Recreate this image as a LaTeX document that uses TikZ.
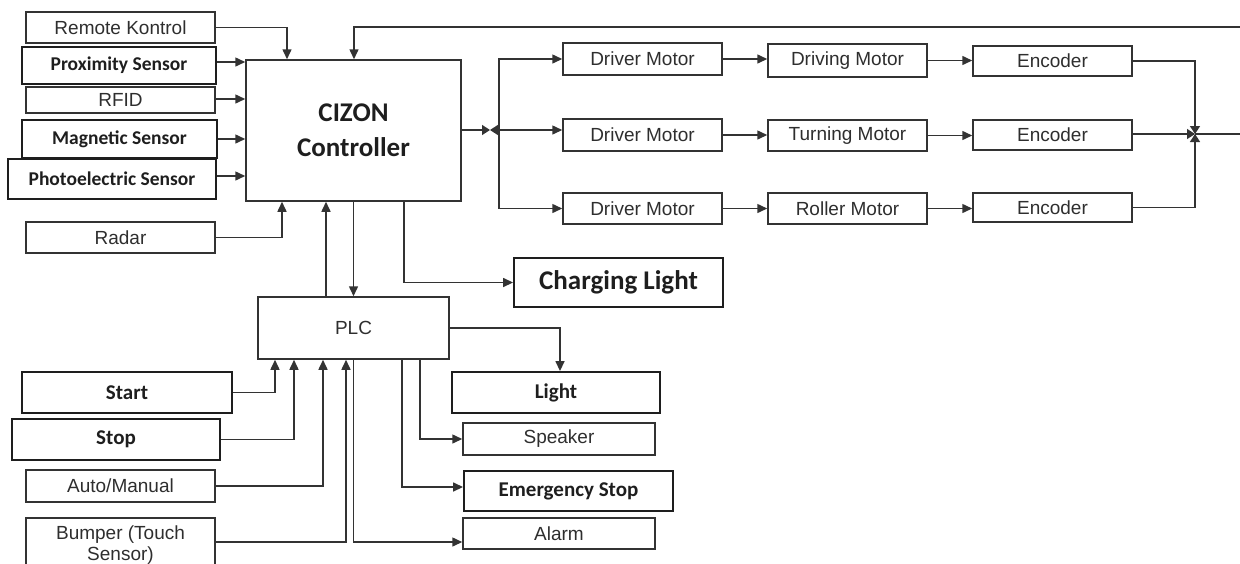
\documentclass[tikz,border=0pt]{standalone}
\usepackage{fontspec}
\setmainfont{Liberation Sans}
\newfontfamily\calibfont{Carlito}
\usetikzlibrary{arrows.meta,calc}
\definecolor{ln}{HTML}{333333}
\definecolor{tx}{HTML}{2E2E2E}
\definecolor{tb}{HTML}{1E1E1E}
\tikzset{
  box/.style={draw=ln, line width=1.5pt, rectangle, inner sep=0pt, text=tx,
    font=\fontsize{19}{21}\selectfont, align=center},
  bbox/.style={box, line width=1.9pt, draw=tb, text=tb, font=\calibfont\bfseries\fontsize{19.5}{22}\selectfont},
  arr/.style={draw=ln, line width=1.5pt, -{Triangle[length=10pt,width=9pt]}},
  sarr/.style={draw=ln, line width=1.5pt, -{Triangle[length=8pt,width=10pt]}},
}
\begin{document}
\begin{tikzpicture}[x=1pt,y=-1pt]
\useasboundingbox (0,0) rectangle (1240,563);
% left inputs
\node[box, minimum width=189pt, minimum height=31pt] (rk) at (120.5,27.5) {Remote Kontrol};
\node[bbox, minimum width=194pt, minimum height=37pt] (prox) at (119,65.5) {Proximity Sensor};
\node[box, minimum width=189pt, minimum height=26pt] (rfid) at (120.5,100) {RFID};
\node[bbox, minimum width=195pt, minimum height=38pt] (mag) at (119.5,139) {Magnetic Sensor};
\node[bbox, minimum width=208pt, minimum height=40pt] (photo) at (112,179) {Photoelectric Sensor};
\node[box, minimum width=189pt, minimum height=31pt] (radar) at (120.5,237.5) {Radar};
% controller
\node[box, minimum width=215pt, minimum height=141pt, text=tb,
  font=\calibfont\bfseries\fontsize{27}{35}\selectfont] (ctrl) at (353.5,130.5) {CIZON\\Controller};
\node[box, minimum width=191pt, minimum height=62pt] (plc) at (353.5,328) {PLC};
\node[bbox, minimum width=209pt, minimum height=49pt,
  font=\calibfont\bfseries\fontsize{27}{30}\selectfont] (chg) at (618.5,282.5) {Charging Light};
% PLC inputs
\node[bbox, minimum width=210pt, minimum height=41pt, font=\calibfont\bfseries\fontsize{21}{24}\selectfont] (start) at (127,392.5) {Start};
\node[bbox, minimum width=208pt, minimum height=41pt, font=\calibfont\bfseries\fontsize{21}{24}\selectfont] (stop) at (116,439.5) {Stop};
\node[box, minimum width=189pt, minimum height=32pt] (auto) at (120.5,486) {Auto/Manual};
\node[box, minimum width=189pt, minimum height=54pt, font=\fontsize{19}{21}\selectfont] (bump) at (120.5,545) {Bumper (Touch\\Sensor)};
% PLC outputs
\node[bbox, minimum width=208pt, minimum height=41pt, font=\calibfont\bfseries\fontsize{21}{24}\selectfont] (light) at (556,392.5) {Light};
\node[box, minimum width=192pt, minimum height=32pt] (spk) at (559,439) {Speaker};
\node[bbox, minimum width=209pt, minimum height=40pt, font=\calibfont\bfseries\fontsize{21}{24}\selectfont] (estop) at (568.5,491) {Emergency Stop};
\node[box, minimum width=192pt, minimum height=31pt] (alarm) at (559,533.5) {Alarm};
% motor rows
\node[box, minimum width=159pt, minimum height=32pt] (dm1) at (642.5,59) {Driver Motor};
\node[box, minimum width=159pt, minimum height=32pt] (dm2) at (642.5,135) {Driver Motor};
\node[box, minimum width=159pt, minimum height=31pt] (dm3) at (642.5,208.5) {Driver Motor};
\node[box, minimum width=159pt, minimum height=33pt] (mo1) at (847.5,60.5) {Driving Motor};
\node[box, minimum width=159pt, minimum height=31pt] (mo2) at (847.5,135.5) {Turning Motor};
\node[box, minimum width=159pt, minimum height=31pt] (mo3) at (847.5,208.5) {Roller Motor};
\node[box, minimum width=159pt, minimum height=30pt] (en1) at (1052.5,61) {Encoder};
\node[box, minimum width=159pt, minimum height=30pt] (en2) at (1052.5,135) {Encoder};
\node[box, minimum width=159pt, minimum height=29pt] (en3) at (1052.5,207.5) {Encoder};
\coordinate (sp) at (499,130);
\coordinate (J) at (1195,134);
\coordinate (rt) at (1242,134);
% inputs to controller
\draw[arr] (rk.east) -| (ctrl.north -| 287,0);
\draw[arr] (prox.east |- 0,62) -- (ctrl.west |- 0,62);
\draw[arr] (rfid.east |- 0,99) -- (ctrl.west |- 0,99);
\draw[arr] (mag.east) -- (ctrl.west |- mag.east);
\draw[arr] (photo.east |- 0,176) -- (ctrl.west |- 0,176);
\draw[arr] (radar.east) -| (ctrl.south -| 282,0);
% controller <-> PLC
\draw[arr] (plc.north -| 326,0) -- (ctrl.south -| 326,0);
\draw[arr] (ctrl.south) -- (plc.north);
\draw[arr] (ctrl.south -| 404,0) |- (chg.west);
% controller to motors
\draw[sarr] (ctrl.east |- sp) -- (490,130);
\draw[sarr] (sp) -- (490,130);
\draw[arr] (sp) |- (dm1.west);
\draw[arr] (sp) -- (dm2.west |- sp);
\draw[arr] (sp) |- (dm3.west);
\draw[arr] (dm1.east) -- (mo1.west |- dm1.east);
\draw[arr] (dm2.east) -- (mo2.west |- dm2.east);
\draw[arr] (dm3.east) -- (mo3.west |- dm3.east);
\draw[arr] (mo1.east) -- (en1.west |- mo1.east);
\draw[arr] (mo2.east) -- (en2.west |- mo2.east);
\draw[arr] (mo3.east) -- (en3.west |- mo3.east);
\draw[sarr] (en1.east) -| (J);
\draw[sarr] (en3.east) -| (J);
\draw[sarr] (en2.east |- J) -- (J);
% feedback
\draw[arr] (J) -- (rt) -- (rt |- 0,27) -| (ctrl.north -| 354,0);
% PLC inputs
\draw[arr] (start.east) -| (plc.south -| 275,0);
\draw[arr] (stop.east) -| (plc.south -| 294,0);
\draw[arr] (auto.east) -| (plc.south -| 323,0);
\draw[arr] (bump.east |- 0,542) -| (plc.south -| 346,0);
% PLC outputs
\draw[arr] (plc.east |- 0,328) -| (light.north -| 560,0);
\draw[arr] (plc.south -| 420,0) |- (spk.west);
\draw[arr] (plc.south -| 402,0) |- (estop.west |- 0,487);
\draw[arr] (plc.south) |- (alarm.west |- 0,542);
\end{tikzpicture}
\end{document}
